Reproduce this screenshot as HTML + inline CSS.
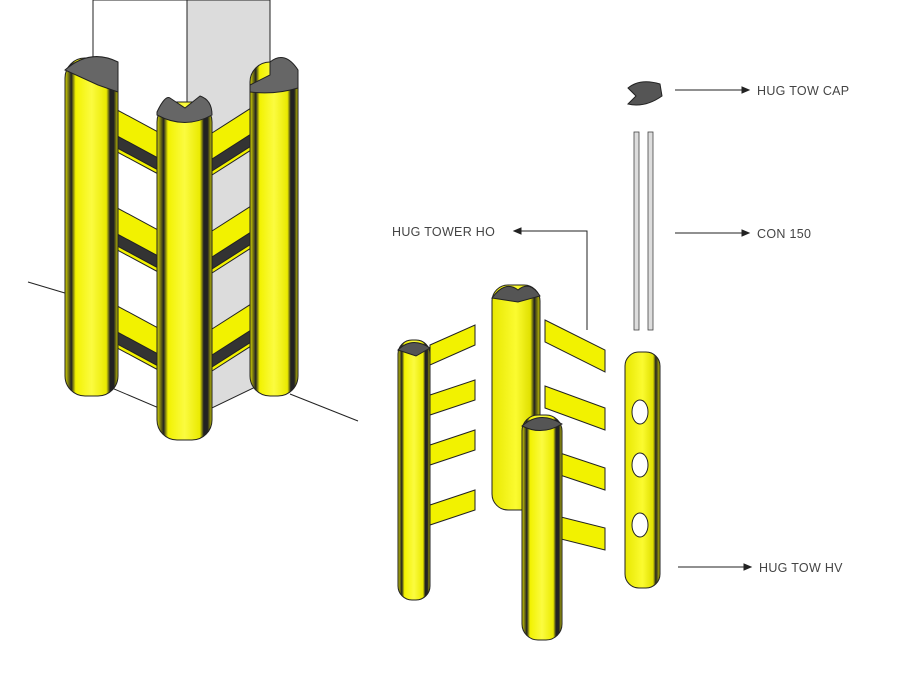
<!DOCTYPE html>
<html><head><style>
html,body{margin:0;padding:0;background:#fff;}
svg{display:block}
text{font-family:"Liberation Sans",sans-serif;font-size:12.5px;fill:#444;letter-spacing:0.3px}
</style></head><body>
<svg width="922" height="675" viewBox="0 0 922 675" xmlns="http://www.w3.org/2000/svg">
<defs>
<linearGradient id="ty" x1="0" x2="1">
<stop offset="0" stop-color="#d8d800"/><stop offset="0.12" stop-color="#222"/><stop offset="0.2" stop-color="#f2f200"/><stop offset="0.5" stop-color="#fbfb40"/><stop offset="0.78" stop-color="#eaea00"/><stop offset="0.85" stop-color="#222"/><stop offset="0.92" stop-color="#222"/><stop offset="1" stop-color="#c8c800"/>
</linearGradient>
<linearGradient id="ty2" x1="0" x2="1">
<stop offset="0" stop-color="#e8e800"/><stop offset="0.5" stop-color="#fbfb30"/><stop offset="0.8" stop-color="#e0e000"/><stop offset="0.88" stop-color="#222"/><stop offset="1" stop-color="#c8c800"/>
</linearGradient>
</defs>
<line x1="28" y1="282" x2="95" y2="302" stroke="#222" stroke-width="1"/>
<line x1="290" y1="394" x2="358" y2="421" stroke="#222" stroke-width="1"/>
<polygon points="93,0 187,0 187,420 93,380" fill="#fff" stroke="#222"/>
<polygon points="187,0 270,0 270,380 187,420" fill="#dcdcdc" stroke="#222"/>
<g stroke="#222" stroke-width="1">
<g id="rl">
<polygon points="95,98 160,133 160,175 95,140" fill="#f2f200"/>
<polygon points="95,124 160,159 160,171 95,136" fill="#333"/>
</g>
<use href="#rl" y="98"/><use href="#rl" y="196"/>
<g id="rr">
<polygon points="212,133 262,101 262,143 212,175" fill="#f2f200"/>
<polygon points="212,159 262,127 262,139 212,171" fill="#333"/>
</g>
<use href="#rr" y="98"/><use href="#rr" y="196"/>
</g>
<rect x="65" y="58" width="53" height="338" rx="20" fill="url(#ty)" stroke="#222"/>
<rect x="250" y="62" width="48" height="334" rx="20" fill="url(#ty)" stroke="#222"/>
<path d="M65,70 Q90,48 118,62 L118,92 L98,85 Z" fill="#666" stroke="#222"/>
<path d="M250,85 L270,75 L270,62 Q285,50 298,70 L298,88 Q275,95 250,92Z" fill="#666" stroke="#222"/>
<rect x="157" y="102" width="55" height="338" rx="20" fill="url(#ty)" stroke="#222"/>
<path d="M157,112 Q165,95 170,98 L185,108 L200,96 Q212,100 212,115 Q185,130 157,115Z" fill="#666" stroke="#222"/>

<path d="M628,88 Q640,78 660,84 L662,96 Q645,108 628,104 L636,96 Z" fill="#555" stroke="#222"/>
<rect x="634" y="132" width="5" height="198" fill="#ddd" stroke="#444" stroke-width="0.8"/>
<rect x="648" y="132" width="5" height="198" fill="#ddd" stroke="#444" stroke-width="0.8"/>
<rect x="492" y="285" width="48" height="225" rx="16" fill="url(#ty2)" stroke="#222"/>
<path d="M492,298 Q505,280 518,290 Q530,280 540,296 L518,302Z" fill="#555" stroke="#222"/>
<g stroke="#222" fill="#f2f200">
<polygon points="545,320 605,350 605,372 545,342"/>
<polygon points="545,386 605,408 605,430 545,408"/>
<polygon points="545,448 605,468 605,490 545,470"/>
<polygon points="545,513 605,528 605,550 545,535"/>
<polygon points="430,345 475,325 475,345 430,365"/>
<polygon points="430,395 475,380 475,400 430,415"/>
<polygon points="430,445 475,430 475,450 430,465"/>
<polygon points="430,505 475,490 475,510 430,525"/>
</g>
<rect x="398" y="340" width="32" height="260" rx="14" fill="url(#ty)" stroke="#222"/>
<path d="M398,350 Q412,336 430,348 L416,356Z" fill="#555" stroke="#222"/>
<rect x="522" y="415" width="40" height="225" rx="16" fill="url(#ty)" stroke="#222"/>
<path d="M522,426 Q540,410 562,424 Q542,436 522,426Z" fill="#555" stroke="#222"/>
<rect x="625" y="352" width="35" height="236" rx="14" fill="url(#ty2)" stroke="#222"/>
<ellipse cx="640" cy="412" rx="8" ry="12" fill="#fff" stroke="#222"/>
<ellipse cx="640" cy="465" rx="8" ry="12" fill="#fff" stroke="#222"/>
<ellipse cx="640" cy="525" rx="8" ry="12" fill="#fff" stroke="#222"/>
<g stroke="#222" stroke-width="1" fill="#222">
<line x1="675" y1="90" x2="744" y2="90"/><polygon points="749,90 742,87 742,93"/>
<line x1="675" y1="233" x2="744" y2="233"/><polygon points="749,233 742,230 742,236"/>
<line x1="678" y1="567" x2="746" y2="567"/><polygon points="751,567 744,564 744,570"/>
<polyline points="587,330 587,231 520,231" fill="none"/><polygon points="514,231 521,228 521,234"/>
</g>
<text x="757" y="95">HUG TOW CAP</text>
<text x="757" y="238">CON 150</text>
<text x="392" y="236">HUG TOWER HO</text>
<text x="759" y="572">HUG TOW HV</text>
</svg>
</body></html>
